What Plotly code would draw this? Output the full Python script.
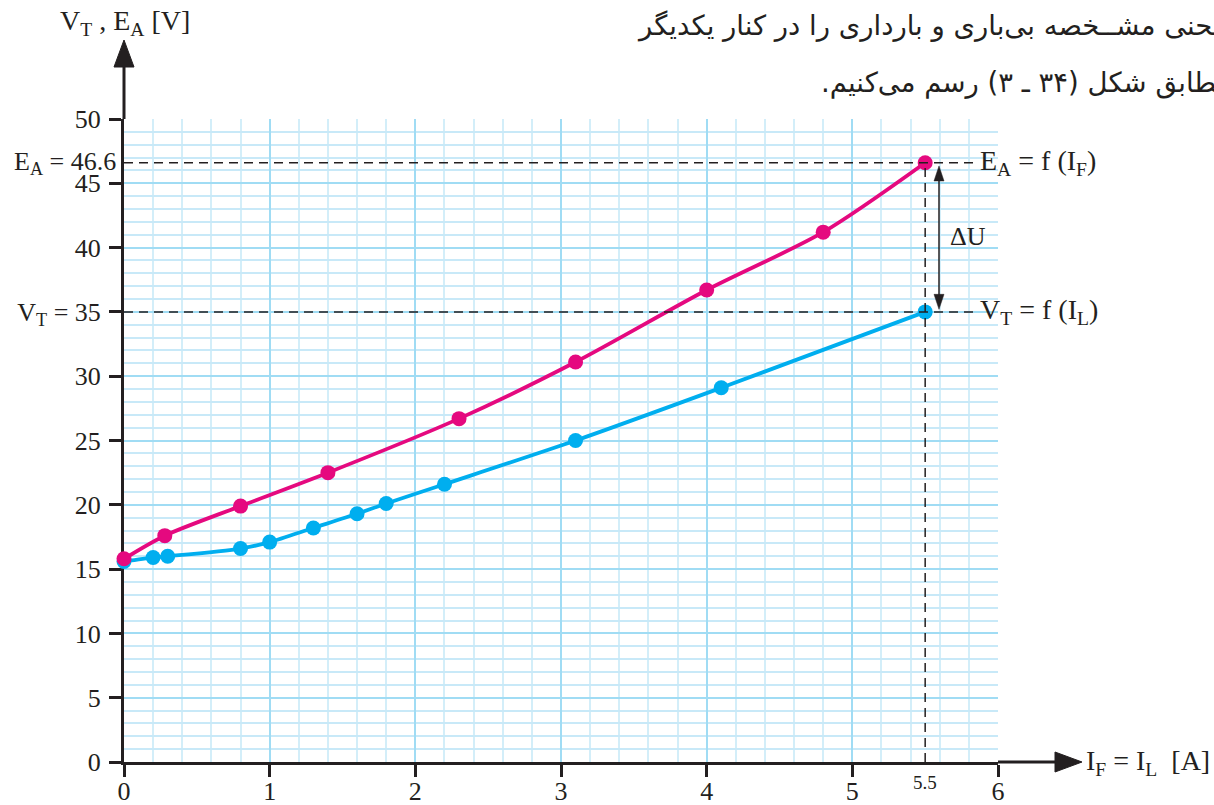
import plotly.graph_objects as go

# Open-circuit characteristic E_A = f(I_F)
IF_EA = [0, 0.28, 0.8, 1.4, 2.3, 3.1, 4.0, 4.8, 5.5]
EA = [15.8, 17.6, 19.9, 22.5, 26.7, 31.1, 36.7, 41.2, 46.6]

# Load characteristic V_T = f(I_L)
IL_VT = [0, 0.2, 0.3, 0.8, 1.0, 1.3, 1.6, 1.8, 2.2, 3.1, 4.1, 5.5]
VT = [15.6, 15.9, 16.0, 16.6, 17.1, 18.2, 19.3, 20.1, 21.6, 25.0, 29.1, 35.0]

# Operating point
I_OP = 5.5
EA_OP = 46.6
VT_OP = 35

X_TICKS = [0, 1, 2, 3, 4, 5, 6]
Y_TICKS = [0, 5, 10, 15, 20, 25, 30, 35, 40, 45, 50]
Y_TICKTEXT = [str(v) if v != VT_OP else "V<sub>T</sub> = 35" for v in Y_TICKS]

PINK = "#e5097f"
BLUE = "#00aeef"
INK = "#231f20"
GRID_MAJOR = "#a0dcf4"
GRID_MINOR_X = "#d3eef9"
GRID_MINOR_Y = "#c8e9f8"
SERIF = "Liberation Serif"

W, H = 1214, 805
ML, MR, MT, MB = 124, 216, 119, 43
PW, PH = W - ML - MR, H - MT - MB


def px_to_paper(px, py):
    return (px - ML) / PW, (H - MB - py) / PH


fig = go.Figure()

fig.add_trace(go.Scatter(
    x=IL_VT, y=VT, mode="lines+markers",
    line=dict(color=BLUE, width=3.8, shape="spline", smoothing=0.8),
    marker=dict(color=BLUE, size=15), cliponaxis=False, showlegend=False,
))
fig.add_trace(go.Scatter(
    x=IF_EA, y=EA, mode="lines+markers",
    line=dict(color=PINK, width=3.8, shape="spline", smoothing=0.8),
    marker=dict(color=PINK, size=15), cliponaxis=False, showlegend=False,
))

shapes = []
dash = dict(color=INK, width=1.5, dash="9px,6px")
shapes.append(dict(type="line", xref="x", yref="y", x0=0, x1=5.84, y0=EA_OP, y1=EA_OP, line=dash))
shapes.append(dict(type="line", xref="x", yref="y", x0=0, x1=5.84, y0=VT_OP, y1=VT_OP, line=dash))
shapes.append(dict(type="line", xref="x", yref="y", x0=I_OP, x1=I_OP, y0=0, y1=EA_OP, line=dash))

# Axis extensions with arrowheads (paper coordinates)
ty = px_to_paper(124, 40)[1]
by = px_to_paper(124, 67)[1]
hw = 10 / PW
shapes.append(dict(type="line", xref="paper", yref="paper", x0=0, x1=0, y0=1, y1=by + 0.005,
                   line=dict(color=INK, width=3)))
shapes.append(dict(type="path", xref="paper", yref="paper",
                   path=f"M {-hw},{by} L 0,{ty} L {hw},{by} Z",
                   fillcolor=INK, line=dict(color=INK, width=1)))
tx = px_to_paper(1082, 0)[0]
bx = px_to_paper(1055, 0)[0]
hh = 10 / PH
shapes.append(dict(type="line", xref="paper", yref="paper", x0=1, x1=bx + 0.005, y0=0, y1=0,
                   line=dict(color=INK, width=3)))
shapes.append(dict(type="path", xref="paper", yref="paper",
                   path=f"M {bx},{-hh} L {tx},0 L {bx},{hh} Z",
                   fillcolor=INK, line=dict(color=INK, width=1)))

# Double arrow for ΔU
xa = 5.595
y_top, y_bot = 46.35, 35.2
hl = 15 / (PH / 50)
aw = 5 / (PW / 6)
shapes.append(dict(type="line", xref="x", yref="y", x0=xa, x1=xa, y0=y_bot + hl * 0.8, y1=y_top - hl * 0.8,
                   line=dict(color=INK, width=1.5)))
shapes.append(dict(type="path", xref="x", yref="y",
                   path=f"M {xa - aw},{y_top - hl} L {xa},{y_top} L {xa + aw},{y_top - hl} Z",
                   fillcolor=INK, line=dict(color=INK, width=0.5)))
shapes.append(dict(type="path", xref="x", yref="y",
                   path=f"M {xa - aw},{y_bot + hl} L {xa},{y_bot} L {xa + aw},{y_bot + hl} Z",
                   fillcolor=INK, line=dict(color=INK, width=0.5)))

annotations = []
label_font = dict(family=SERIF, size=28, color=INK)
tick_font = dict(family=SERIF, size=26, color=INK)

x_p, y_p = px_to_paper(58, 23)
annotations.append(dict(text="V<sub>T</sub> , E<sub>A</sub> [V]", xref="paper", yref="paper",
                        x=x_p, y=y_p, xanchor="left", yanchor="middle", showarrow=False, font=label_font))
x_p, _ = px_to_paper(1084, 0)
annotations.append(dict(text="I<sub>F</sub> = I<sub>L</sub>  [A]", xref="paper", yref="paper",
                        x=x_p, y=0, xanchor="left", yanchor="middle", showarrow=False, font=label_font))
x_p, _ = px_to_paper(118, 0)
annotations.append(dict(text="E<sub>A</sub> = 46.6", xref="paper", yref="y",
                        x=x_p, y=EA_OP, xanchor="right", yanchor="middle", showarrow=False, font=tick_font))
annotations.append(dict(text="E<sub>A</sub> = f (I<sub>F</sub>)", xref="x", yref="y",
                        x=5.86, y=EA_OP, xanchor="left", yanchor="middle", showarrow=False, font=label_font))
annotations.append(dict(text="V<sub>T</sub> = f (I<sub>L</sub>)", xref="x", yref="y",
                        x=5.86, y=VT_OP, xanchor="left", yanchor="middle", showarrow=False, font=label_font))
annotations.append(dict(text="ΔU", xref="x", yref="y", x=5.655, y=40.9,
                        xanchor="left", yanchor="middle", showarrow=False, font=tick_font))
_, y_p = px_to_paper(0, 782)
annotations.append(dict(text="5.5", xref="x", yref="paper", x=I_OP, y=y_p,
                        xanchor="center", yanchor="middle", showarrow=False,
                        font=dict(family=SERIF, size=19, color=INK)))

# Persian caption lines (right edge runs past the page)
RLM = "\u200f"
fa_font = dict(family="DejaVu Sans", size=27.5, color=INK)
x_p, y_p = px_to_paper(1238, 26)
annotations.append(dict(text=RLM + "منحنی مشــخصه بی‌باری و بارداری را در کنار یکدیگر" + RLM,
                        xref="paper", yref="paper",
                        x=x_p, y=y_p, xanchor="right", yanchor="middle", showarrow=False, font=fa_font))
x_p, y_p = px_to_paper(1234, 83)
annotations.append(dict(text=RLM + "مطابق شکل (۳۴ ـ ۳) رسم می‌کنیم." + RLM,
                        xref="paper", yref="paper",
                        x=x_p, y=y_p, xanchor="right", yanchor="middle", showarrow=False, font=fa_font))

axis_common = dict(
    ticks="outside", ticklen=12, tickwidth=2.5, tickcolor=INK,
    showline=True, linewidth=3, linecolor=INK, zeroline=False,
    showgrid=True, gridcolor=GRID_MAJOR, gridwidth=2,
    tickfont=tick_font, layer="below traces", fixedrange=True, automargin=False,
)

fig.update_layout(
    width=W, height=H,
    margin=dict(l=ML, r=MR, t=MT, b=MB, autoexpand=False),
    paper_bgcolor="white", plot_bgcolor="white",
    shapes=shapes, annotations=annotations,
    xaxis=dict(
        range=[0, 6], tickmode="array", tickvals=X_TICKS, ticklabelstandoff=-8,
        minor=dict(tickmode="linear", tick0=0, dtick=0.2, showgrid=True,
                   gridcolor=GRID_MINOR_X, gridwidth=1.5, ticks=""),
        **axis_common,
    ),
    yaxis=dict(
        range=[0, 50], tickmode="array", tickvals=Y_TICKS, ticktext=Y_TICKTEXT, ticklabelstandoff=3,
        minor=dict(tickmode="linear", tick0=0, dtick=1, showgrid=True,
                   gridcolor=GRID_MINOR_Y, gridwidth=1.5, ticks=""),
        **axis_common,
    ),
)

fig.write_html("out.html")
